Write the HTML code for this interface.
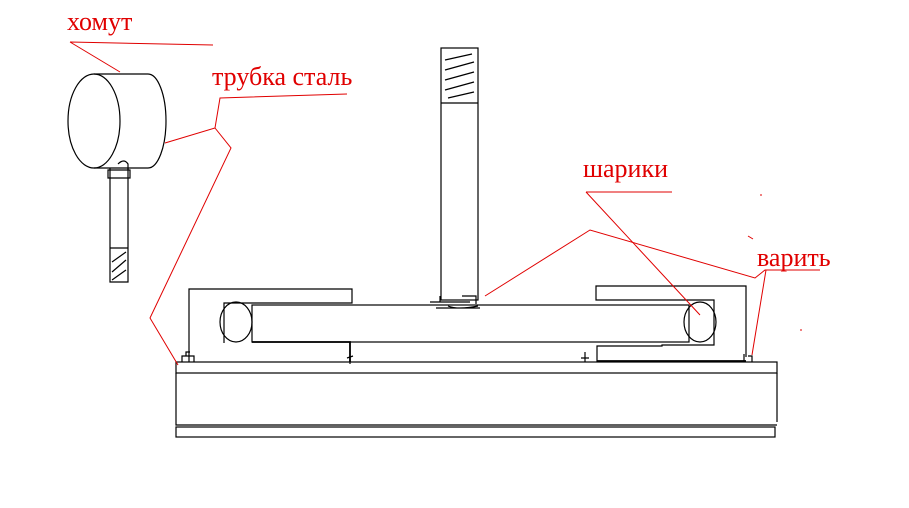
<!DOCTYPE html>
<html><head><meta charset="utf-8"><style>
html,body{margin:0;padding:0;background:#fff;}
svg{display:block}
text{font-family:"Liberation Serif","DejaVu Serif",serif;fill:#e00000;font-size:26px}
</style></head><body>
<svg width="909" height="508" viewBox="0 0 909 508" xmlns="http://www.w3.org/2000/svg">
<g fill="none" stroke="#000" stroke-width="1.2">
<ellipse cx="94" cy="121" rx="26" ry="47"/>
<path d="M94 74 H148 A18 47 0 0 1 148 168 H94"/>
<path d="M110 168 V282 H128 V168"/>
<line x1="110" y1="248" x2="128" y2="248"/>
<path d="M112 262 L126 252 M112 272 L126 260 M112 280 L126 270"/>
<path d="M108 170 h22 v8 h-22z M118 164 q6 -6 10 0 v6"/>
<rect x="441" y="48" width="37" height="252"/>
<line x1="441" y1="103" x2="478" y2="103"/>
<path d="M445 60 L472 54 M445 70 L474 62 M445 80 L474 72 M445 90 L474 82 M448 98 L474 92"/>
<rect x="176" y="362" width="601" height="11"/>
<path d="M176 373 V425 H777 M777 373 V422"/>
<rect x="176" y="427" width="599" height="10"/>
<path d="M189 362 V289 H352 V303 H224 V343"/>
<ellipse cx="236" cy="322" rx="16" ry="20"/>
<rect x="252" y="305" width="437" height="37"/>
<path d="M252 342 H350 V362" stroke-width="1.8"/>
<path d="M746 357 V286 H596 V300 H714 V345 H662 V346 H597 V362"/>
<ellipse cx="700" cy="322" rx="16" ry="20"/>
<line x1="597" y1="361" x2="746" y2="361" stroke-width="1.8"/>
<path d="M182 362 v-6 h12 v6 M186 356 v-4 h4"/>
<path d="M347 358 l6 -2 M350 356 v8"/>
<path d="M581 358 h8 M585 352 v10"/>
<path d="M744 362 v-8 M748 356 h4 v6"/>
<path d="M430 302 h40 M436 308 h44 M440 296 v6 M462 296 h14 v8 M448 306 q10 4 30 0"/>
</g>
<g fill="none" stroke="#e00000" stroke-width="1">
<path d="M70 42 L213 45 M70 42 L120 72"/>
<path d="M347 94 L220 98 L215 128 L165 143 M215 128 L231 148 L150 318 L178 365"/>
<path d="M586 192 H672 M586 192 L700 315"/>
<path d="M485 296 L590 230 L755 278 L765 270 H820 M766 270 L752 355"/>
<path d="M760 195 h2 M748 236 l5 3 M800 330 h2"/>
</g>
<text x="67" y="30">хомут</text>
<text x="212" y="85">трубка сталь</text>
<text x="583" y="177">шарики</text>
<text x="757" y="266">варить</text>
</svg>
</body></html>
